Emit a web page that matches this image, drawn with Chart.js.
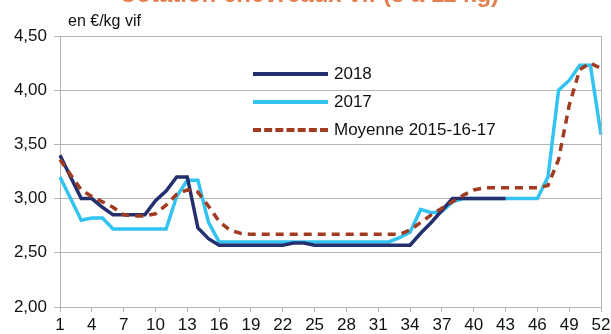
<!DOCTYPE html>
<html lang="fr">
<head>
<meta charset="utf-8">
<script src="https://cdn.jsdelivr.net/npm/chart.js@4.4.1/dist/chart.umd.min.js"></script>
<style>
  html, body { margin: 0; padding: 0; background: #fff; }
  #wrap { position: relative; width: 611px; height: 334px; overflow: hidden; font-family: "Liberation Sans", Arial, sans-serif; }
  #title { position: absolute; left: 0; width: 618px; top: -20px; text-align: center; color: #E2804F; font-weight: bold; font-size: 24px; white-space: nowrap; }
  #unit { position: absolute; left: 68px; top: 12px; font-size: 16px; color: #111; }
  #legend { position: absolute; left: 253px; top: 60px; font-size: 17px; color: #111; }
  .row { display: flex; align-items: center; height: 28px; }
  .swatch { width: 75px; height: 0; margin-right: 6px; }
</style>
</head>
<body>
<div id="wrap">
  <canvas id="chart" width="611" height="334"></canvas>
  <div id="title">Cotation chevreaux vif (8 à 11 kg)</div>
  <div id="unit">en €/kg vif</div>
  <div id="legend"></div>
</div>
<script>
// semaines
const weeks = [1, 2, 3, 4, 5, 6, 7, 8, 9, 10, 11, 12, 13, 14, 15, 16, 17, 18, 19, 20, 21, 22, 23, 24, 25, 26,
               27, 28, 29, 30, 31, 32, 33, 34, 35, 36, 37, 38, 39, 40, 41, 42, 43, 44, 45, 46, 47, 48, 49, 50, 51, 52];

// prix en €/kg vif
const prix2018 = [3.40, 3.20, 3.00, 3.00, 2.92, 2.85, 2.85, 2.85, 2.85, 2.98, 3.07, 3.20, 3.20, 2.73, 2.63, 2.57,
                  2.57, 2.57, 2.57, 2.57, 2.57, 2.57, 2.59, 2.59, 2.57, 2.57, 2.57, 2.57, 2.57, 2.57, 2.57, 2.57,
                  2.57, 2.57, 2.68, 2.78, 2.89, 3.00, 3.00, 3.00, 3.00, 3.00, 3.00,
                  null, null, null, null, null, null, null, null, null];
const prix2017 = [3.20, 3.00, 2.80, 2.82, 2.82, 2.72, 2.72, 2.72, 2.72, 2.72, 2.72, 3.02, 3.17, 3.17, 2.78, 2.60,
                  2.60, 2.60, 2.60, 2.60, 2.60, 2.60, 2.60, 2.60, 2.60, 2.60, 2.60, 2.60, 2.60, 2.60, 2.60, 2.60,
                  2.64, 2.69, 2.90, 2.87, 2.88, 2.97, 3.00, 3.00, 3.00, 3.00, 3.00, 3.00, 3.00, 3.00,
                  3.20, 4.00, 4.09, 4.23, 4.23, 3.59];
const moyenne = [3.36, 3.22, 3.08, 3.02, 2.97, 2.92, 2.85, 2.84, 2.84, 2.86, 2.94, 3.04, 3.08, 3.06, 2.93, 2.79,
                 2.71, 2.68, 2.67, 2.67, 2.67, 2.67, 2.67, 2.67, 2.67, 2.67, 2.67, 2.67, 2.67, 2.67, 2.67, 2.67,
                 2.67, 2.71, 2.78, 2.85, 2.91, 2.97, 3.03, 3.08, 3.10, 3.10, 3.10, 3.10, 3.10, 3.10,
                 3.12, 3.36, 3.86, 4.19, 4.25, 4.20];

const seriesNames = ["2018", "2017", "Moyenne 2015-16-17"];
const yTicks = [2.0, 2.5, 3.0, 3.5, 4.0, 4.5];

const FONT = "'Liberation Sans', Arial, sans-serif";
const GRID = "#B4B4B4";

// cadre du graphique (bord droit)
const plotFrame = {
  id: "plotFrame",
  afterDraw(chart) {
    const { ctx, chartArea: a } = chart;
    ctx.save();
    ctx.strokeStyle = GRID;
    ctx.lineWidth = 1;
    ctx.beginPath();
    ctx.moveTo(a.right + 0.5, a.top);
    ctx.lineTo(a.right + 0.5, a.bottom);
    ctx.stroke();
    ctx.restore();
  }
};

const datasets = [
  { label: seriesNames[0], data: prix2018, borderColor: "#24306E", borderWidth: 3.5, order: 2 },
  { label: seriesNames[1], data: prix2017, borderColor: "#33C3F0", borderWidth: 3.5, order: 3 },
  { label: seriesNames[2], data: moyenne, borderColor: "#A13C22", borderWidth: 3.5, borderDash: [8, 6], order: 1 }
];

const chart = new Chart(document.getElementById("chart"), {
  type: "line",
  data: {
    labels: weeks,
    datasets: datasets.map(d => ({ ...d, pointRadius: 0, tension: 0, fill: false, spanGaps: false }))
  },
  options: {
    responsive: false,
    animation: false,
    layout: { padding: { top: 36, right: 10, left: 0, bottom: 0 } },
    plugins: { legend: { display: false }, tooltip: { enabled: false } },
    scales: {
      x: {
        grid: {
          drawOnChartArea: false,
          tickLength: 5,
          color: c => (c.index % 3 === 0 ? GRID : "rgba(0,0,0,0)")
        },
        border: { color: GRID },
        ticks: {
          autoSkip: false,
          maxRotation: 0,
          padding: 3,
          color: "#111",
          font: { family: FONT, size: 17 },
          callback: (v, i) => (i % 3 === 0 ? weeks[i] : "")
        },
        afterFit: s => {
          s.height = 27;
          s.paddingLeft = 0;
          s.paddingRight = 0;
        }
      },
      y: {
        min: yTicks[0],
        max: yTicks[yTicks.length - 1],
        afterBuildTicks: s => { s.ticks = yTicks.map(v => ({ value: v })); },
        grid: { color: GRID, tickLength: 6 },
        border: { color: GRID },
        ticks: {
          padding: 7,
          color: "#111",
          font: { family: FONT, size: 17 },
          callback: v => v.toFixed(2).replace(".", ",")
        },
        afterFit: s => {
          s.width = 60;
          s.paddingTop = 0;
          s.paddingBottom = 0;
        }
      }
    }
  },
  plugins: [plotFrame]
});

// légende
const legend = document.getElementById("legend");
datasets.forEach(d => {
  const row = document.createElement("div");
  row.className = "row";
  const sw = document.createElement("div");
  sw.className = "swatch";
  sw.style.borderTop = "4px " + (d.borderDash ? "dashed " : "solid ") + d.borderColor;
  const txt = document.createElement("span");
  txt.textContent = d.label;
  row.appendChild(sw);
  row.appendChild(txt);
  legend.appendChild(row);
});
</script>
</body>
</html>
